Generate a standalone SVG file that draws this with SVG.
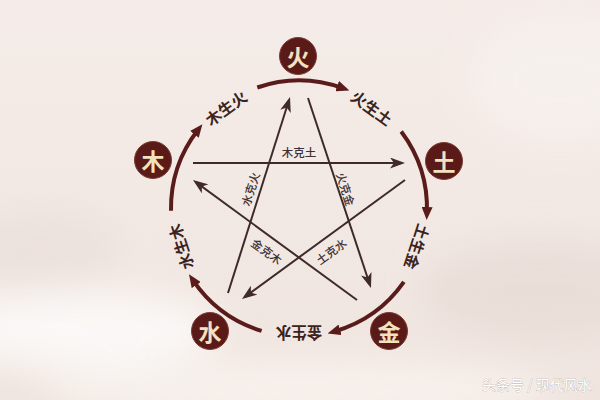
<svg xmlns="http://www.w3.org/2000/svg" width="600" height="400" viewBox="0 0 600 400">
<defs>
<linearGradient id="bg" x1="0" y1="0" x2="0" y2="1">
<stop offset="0" stop-color="#f4ece8"/>
<stop offset="0.6" stop-color="#f2e8e3"/>
<stop offset="1" stop-color="#efe4de"/>
</linearGradient>
<filter id="blur" x="-50%" y="-50%" width="200%" height="200%"><feGaussianBlur stdDeviation="18"/></filter>
<marker id="arcHead" markerUnits="userSpaceOnUse" markerWidth="13" markerHeight="11" refX="6" refY="5.5" orient="auto">
<path d="M0,0 L13,5.5 L0,11 z" fill="#5a1c1a"/>
</marker>
<marker id="lineHead" markerUnits="userSpaceOnUse" markerWidth="15" markerHeight="11" refX="11" refY="5.5" orient="auto">
<path d="M0,0 L15,5.5 L0,11 L4,5.5 z" fill="#3e2a28"/>
</marker>
<style>
.node circle{fill:#5a1b18;stroke:#7c3b34;stroke-width:1}
.node text{font-family:"Noto Sans CJK SC","Noto Sans",sans-serif;font-size:23px;font-weight:700;fill:#f3e2c0;text-anchor:middle;dominant-baseline:central}
.arc{fill:none;stroke:#5a1c1a;stroke-width:4;marker-end:url(#arcHead)}
.line{fill:none;stroke:#3e2a28;stroke-width:2;marker-end:url(#lineHead)}
.alab{font-family:"Noto Sans CJK SC","Noto Sans",sans-serif;font-size:15.5px;font-weight:700;fill:#3a2321;text-anchor:middle;dominant-baseline:central}
.slab{font-family:"Noto Sans CJK SC","Noto Sans",sans-serif;font-size:11.5px;font-weight:500;fill:#3e3030;text-anchor:middle;dominant-baseline:central}
.wm{font-family:"Noto Sans CJK SC","Noto Sans",sans-serif;font-size:14px;fill:#ffffff;stroke:#b9aeaa;stroke-width:0.6;paint-order:stroke}
</style>
</defs>
<rect width="600" height="400" fill="url(#bg)"/>
<g filter="url(#blur)" opacity="0.7">
<ellipse cx="80" cy="330" rx="140" ry="40" fill="#ffffff"/>
<ellipse cx="540" cy="290" rx="120" ry="50" fill="#e6dad4"/>
<ellipse cx="300" cy="390" rx="260" ry="30" fill="#faf6f3"/>
<ellipse cx="40" cy="250" rx="80" ry="40" fill="#e9dfda"/>
<ellipse cx="560" cy="80" rx="90" ry="60" fill="#f8f3f0"/>
</g>

<g id="connectors">
<g id="generating">
<path class="arc" d="M257.3,87.5 A128,128 0 0 1 342.8,88.2"/>
<path class="arc" d="M401.2,131.5 A128,128 0 0 1 426.9,213.0"/>
<path class="arc" d="M403.9,281.9 A128,128 0 0 1 334.3,331.5"/>
<path class="arc" d="M261.6,330.9 A128,128 0 0 1 192.9,280.1"/>
<path class="arc" d="M171.0,210.7 A128,128 0 0 1 198.1,129.7"/>
</g>
<g id="controlling">
<path class="line" d="M193,163 L401,163"/>
<path class="line" d="M308,98 L369.7,284.2"/>
<path class="line" d="M357,300 L196.2,182.4"/>
<path class="line" d="M405,180 L245.2,296.6"/>
<path class="line" d="M228,293 L288.8,100.8"/>
</g>
<g id="arc-labels">
<text class="alab" x="299" y="83.5" transform="rotate(36 299 208.5)">火生土</text>
<text class="alab" x="299" y="83.5" transform="rotate(108 299 208.5)">土生金</text>
<text class="alab" x="299" y="83.5" transform="rotate(180 299 208.5)">金生水</text>
<text class="alab" x="299" y="83.5" transform="rotate(252 299 208.5)">水生木</text>
<text class="alab" x="299" y="83.5" transform="rotate(324 299 208.5)">木生火</text>
</g>
<g id="line-labels">
<text class="slab" x="299" y="152">木克土</text>
<text class="slab" x="346" y="189" transform="rotate(72 346 189)">火克金</text>
<text class="slab" x="250" y="189" transform="rotate(-72 250 189)">水克火</text>
<text class="slab" x="267" y="251" transform="rotate(36 267 251)">金克木</text>
<text class="slab" x="331" y="251" transform="rotate(-36 331 251)">土克水</text>
</g>
</g>

<g id="node-fire" class="node"><circle cx="298" cy="56" r="18.5"/><text x="298" y="56">火</text></g>
<g id="node-earth" class="node"><circle cx="444" cy="161" r="18.5"/><text x="444" y="161">土</text></g>
<g id="node-metal" class="node"><circle cx="389" cy="331" r="18.5"/><text x="389" y="331">金</text></g>
<g id="node-water" class="node"><circle cx="210" cy="331" r="18.5"/><text x="210" y="331">水</text></g>
<g id="node-wood" class="node"><circle cx="153" cy="160" r="18.5"/><text x="153" y="160">木</text></g>

<text class="wm" x="482" y="390">头条号 / 现代风水</text>
</svg>
